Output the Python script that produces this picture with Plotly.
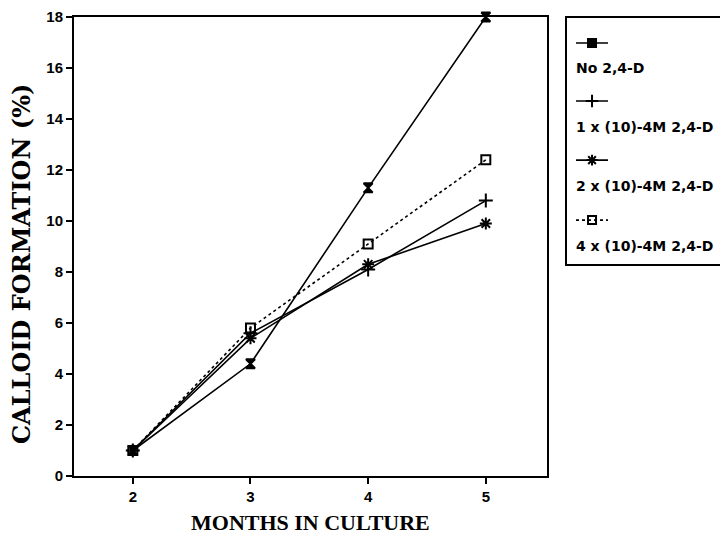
import plotly.graph_objects as go

months = [2, 3, 4, 5]
series_names = ["No 2,4-D", "1 x (10)-4M 2,4-D", "2 x (10)-4M 2,4-D", "4 x (10)-4M 2,4-D"]
no_24d = [1.0, 4.4, 11.3, 18.0]
one_x = [1.0, 5.6, 8.1, 10.8]
two_x = [1.0, 5.4, 8.3, 9.9]
four_x = [1.0, 5.8, 9.1, 12.4]
y_ticks = [0, 2, 4, 6, 8, 10, 12, 14, 16, 18]
x_ticks = [2, 3, 4, 5]

values = [no_24d, one_x, two_x, four_x]
symbols = ["hourglass", "cross-thin-open", "asterisk-open", "square-open"]
legend_symbols = ["square", "cross-thin-open", "asterisk-open", "square-open"]
dashes = ["solid", "solid", "solid", "dot"]
sizes = [9, 10, 10, 9]

fig = go.Figure()
for name, vals, sym, dash, sz in zip(series_names, values, symbols, dashes, sizes):
    fig.add_trace(go.Scatter(
        x=months, y=vals, mode="lines+markers", name=name,
        line=dict(color="black", width=1.6, dash=dash),
        marker=dict(symbol=sym, size=sz, color="black",
                    line=dict(color="black", width=2)),
        cliponaxis=False, showlegend=False, xaxis="x", yaxis="y"))

# custom legend (marker sample above text, as in the original)
leg_line_y = [0.895, 0.661, 0.423, 0.181]
leg_text_y = [0.794, 0.556, 0.319, 0.077]
for i, (name, sym, dash, sz) in enumerate(zip(series_names, legend_symbols, dashes, sizes)):
    fig.add_trace(go.Scatter(
        x=[0.065, 0.169, 0.273], y=[leg_line_y[i]] * 3, mode="lines",
        line=dict(color="black", width=1.6, dash=dash),
        showlegend=False, hoverinfo="skip", xaxis="x2", yaxis="y2"))
    fig.add_trace(go.Scatter(
        x=[0.169], y=[leg_line_y[i]], mode="markers",
        marker=dict(symbol=sym, size=sz - 1, color="black",
                    line=dict(color="black", width=2)),
        showlegend=False, hoverinfo="skip", xaxis="x2", yaxis="y2"))
    fig.add_annotation(x=0.05, y=leg_text_y[i], xref="x2", yref="y2",
                       text=name, showarrow=False, xanchor="left", yanchor="middle",
                       font=dict(family="DejaVu Sans", size=14, color="black", weight="bold"))

dom_split = (547 - 74) / (720 - 74)
leg_left = (566 - 74) / (720 - 74)
leg_bottom = (476 - 265) / (476 - 17)

fig.add_shape(type="rect", xref="paper", yref="paper",
              x0=leg_left, x1=1.003, y0=leg_bottom, y1=1.0,
              line=dict(color="black", width=2))

# axis titles
fig.add_annotation(x=(310 - 74) / 646, y=(476 - 522) / 459, xref="paper", yref="paper",
                   text="MONTHS IN CULTURE", showarrow=False,
                   xanchor="center", yanchor="middle",
                   font=dict(family="Liberation Serif", size=22, color="black", weight="bold"))
fig.add_annotation(x=(21 - 74) / 646, y=(476 - 264) / 459, xref="paper", yref="paper",
                   text="CALLOID FORMATION (%)", showarrow=False, textangle=-90,
                   xanchor="center", yanchor="middle",
                   font=dict(family="DejaVu Serif", size=24, color="black", weight="bold"))

tick_font = dict(family="Liberation Sans", size=15, color="black", weight="bold")
fig.update_layout(
    width=720, height=535,
    margin=dict(l=74, r=0, t=17, b=59),
    paper_bgcolor="white", plot_bgcolor="white",
    xaxis=dict(domain=[0, dom_split], range=[1.5, 5.52], tickvals=x_ticks,
               ticks="outside", ticklen=6, tickwidth=1.5, tickcolor="black",
               showline=True, linecolor="black", linewidth=2, mirror=True,
               showgrid=False, zeroline=False, automargin=False,
               tickfont=tick_font),
    yaxis=dict(range=[0, 18], tickvals=y_ticks,
               ticks="outside", ticklen=6, tickwidth=1.5, tickcolor="black",
               showline=True, linecolor="black", linewidth=2, mirror=True,
               showgrid=False, zeroline=False, automargin=False,
               tickfont=tick_font),
    xaxis2=dict(domain=[leg_left, 1], range=[0, 1], visible=False, fixedrange=True),
    yaxis2=dict(domain=[leg_bottom, 1], range=[0, 1], visible=False, fixedrange=True, anchor="x2"),
)

fig.write_html("out.html", config={"displayModeBar": False},
               post_script="document.body.style.margin='0';document.body.style.overflow='hidden';")
